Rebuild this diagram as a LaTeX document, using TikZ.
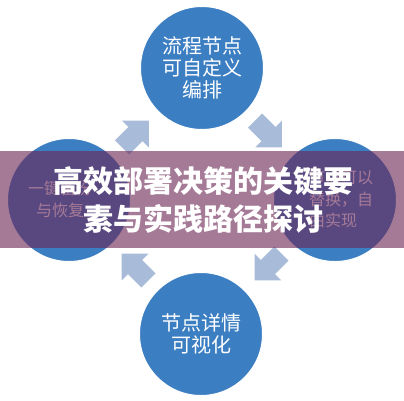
\documentclass[tikz,border=0pt]{standalone}
\usepackage{fontspec}
\setmainfont{Noto Sans CJK SC}
\usetikzlibrary{calc}
\definecolor{circblue}{RGB}{60,126,194}
\definecolor{arrowblue}{RGB}{168,188,217}
\definecolor{bannercol}{RGB}{109,38,86}
\begin{document}
\begin{tikzpicture}[x=1pt,y=-1pt,
  circ/.style={circle, fill=circblue, draw=white, line width=1pt, minimum size=123pt, inner sep=0pt},
  bigtxt/.style={text=white, align=center, font=\fontsize{20}{22}\selectfont},
  smalltxt/.style={text=white, inner sep=0pt, font=\fontsize{16}{21.5}\selectfont},
  titletxt/.style={text=white, align=center, inner sep=0pt, font=\bfseries\fontsize{30}{38}\selectfont},
  blockarrow/.pic={\fill[arrowblue] (-19,-10) -- (0,-10) -- (0,-19) -- (19,0) -- (0,19) -- (0,10) -- (-19,10) -- cycle;}
]
\useasboundingbox (0,0) rectangle (404,400);
\fill[white] (0,0) rectangle (404,400);
% circles
\node[circ, bigtxt] (top) at (202,68) {流程节点\\可自定义\\编排};
\node[circ, bigtxt] (bottom) at (201,334) {节点详情\\可视化};
\node[circ] (left) at (69,200) {};
\node[circ] (right) at (335,200) {};
\node[smalltxt, align=center] (lefttxt) at (60,199.5) {一键备份\\与恢复};
\node[smalltxt, align=left, anchor=west] (righttxt) at (309,199) {节点可以\\替换，自\\由实现};
% block arrows (clockwise cycle)
\path ($(left)!0.5!(top)$) pic[rotate=45] {blockarrow};
\path ($(top)!0.5!(right)$) pic[rotate=-45] {blockarrow};
\path ($(right)!0.5!(bottom)$) pic[rotate=-135] {blockarrow};
\path ($(bottom)!0.5!(left)$) pic[rotate=135] {blockarrow};
% banner
\fill[bannercol, fill opacity=0.61] (0,151) rectangle (404,248);
\node[titletxt] (title) at (203,200) {高效部署决策的关键要\\素与实践路径探讨};
\end{tikzpicture}
\end{document}
